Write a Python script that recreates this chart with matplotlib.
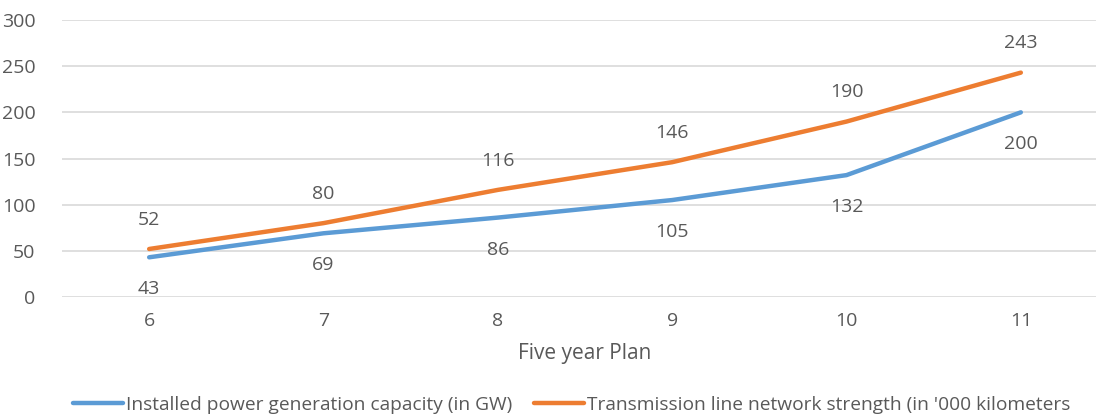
import numpy as np
import matplotlib.pyplot as plt

plt.rcParams['font.family'] = ['Open Sans', 'DejaVu Sans']

plans = ['6', '7', '8', '9', '10', '11']
capacity_gw = [43, 69, 86, 105, 132, 200]
transmission_km = [52, 80, 116, 146, 190, 243]

BLUE = '#5B9BD5'
ORANGE = '#ED7D31'
GRAY_TXT = '#595959'

fig = plt.figure(figsize=(10.96, 4.16), dpi=100)
ax = fig.add_axes([62 / 1096, 1 - 297 / 416, 1046 / 1096, 277 / 416])

x = np.arange(len(plans))
ax.plot(x, capacity_gw, color=BLUE, lw=3.2, solid_capstyle='round',
        label='Installed power generation capacity (in GW)')
ax.plot(x, transmission_km, color=ORANGE, lw=3.2, solid_capstyle='round',
        label="Transmission line network strength (in '000 kilometers")

# value labels: blue below the line, orange above
for xi, v in zip(x, capacity_gw):
    ax.annotate(str(v), (xi, v), xytext=(0, -23), textcoords='offset points',
                ha='center', va='center', color=GRAY_TXT, fontsize=14)
for xi, v in zip(x, transmission_km):
    ax.annotate(str(v), (xi, v), xytext=(0, 21), textcoords='offset points',
                ha='center', va='center', color=GRAY_TXT, fontsize=14)

ax.set_xlim(-0.5, 5.5)
ax.set_ylim(0, 300)
ax.set_yticks(range(0, 301, 50))
ax.set_xticks(x)
ax.set_xticklabels(plans)
ax.grid(axis='y', color='#D9D9D9', lw=1.2)
ax.set_axisbelow(True)
for s in ax.spines.values():
    s.set_visible(False)
ax.tick_params(length=0, labelsize=14, labelcolor=GRAY_TXT)
ax.tick_params(axis='y', pad=19)
ax.tick_params(axis='x', pad=11)
ax.set_xlabel('Five year Plan', fontsize=15, color=GRAY_TXT, labelpad=9)

fig.legend(loc='center left', bbox_to_anchor=(56 / 1096, 1 - 405 / 416),
           ncol=2, frameon=False, fontsize=13.8, handlelength=2.6,
           handletextpad=0.15, columnspacing=1.15, labelcolor=GRAY_TXT)

fig.savefig('out.png', dpi=100)
